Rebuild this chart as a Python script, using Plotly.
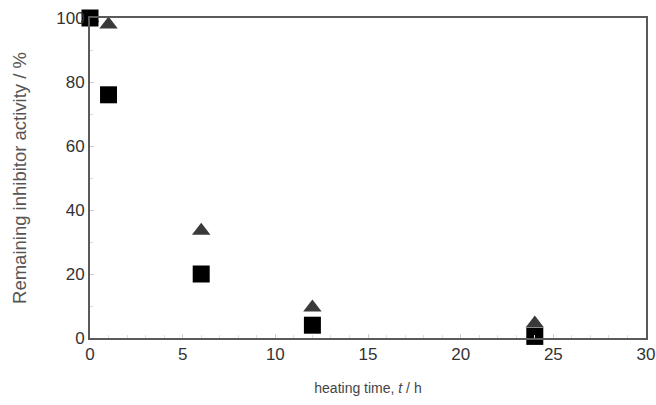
import plotly.graph_objects as go

# Heating time (h) and remaining inhibitor activity (%)
time_square = [0, 1, 6, 12, 24]
activity_square = [100, 76, 20, 4, 0.5]

time_triangle = [0, 1, 6, 12, 24]
activity_triangle = [100, 98, 33.5, 9.5, 4.5]

x_ticks = [0, 5, 10, 15, 20, 25, 30]
y_ticks = [0, 20, 40, 60, 80, 100]

fig = go.Figure()
fig.add_trace(go.Scatter(
    x=time_triangle, y=activity_triangle, mode="markers",
    marker=dict(symbol="triangle-up", size=16, color="#3a3a3a"),
    cliponaxis=False, showlegend=False))
fig.add_trace(go.Scatter(
    x=time_square, y=activity_square, mode="markers",
    marker=dict(symbol="square", size=17, color="#000000"),
    cliponaxis=False, showlegend=False))

axis_common = dict(
    showline=True, linecolor="#5a5a5a", linewidth=2, mirror=True,
    showgrid=False, zeroline=False, automargin=False,
    ticks="inside", ticklen=4, tickcolor="#cfcfcf",
    tickfont=dict(family="Liberation Sans, Arial", size=17, color="#333333"),
)

fig.update_xaxes(
    range=[0, 30], tickvals=x_ticks, **axis_common,
    minor=dict(dtick=1, ticks="inside", ticklen=3, tickcolor="#dddddd"),
    title=dict(text="heating time, <i>t</i> / h", standoff=20,
               font=dict(family="Liberation Sans, Arial", size=14, color="#444444")),
)
fig.update_yaxes(
    range=[0, 100], tickvals=y_ticks, **axis_common,
    minor=dict(dtick=10, ticks="inside", ticklen=3, tickcolor="#dddddd"),
    title=dict(text="Remaining inhibitor activity / %", standoff=25,
               font=dict(family="Liberation Sans, Arial", size=18.5, color="#555555")),
)

fig.update_layout(
    width=656, height=405,
    margin=dict(l=90, r=10, t=18, b=67),
    paper_bgcolor="white", plot_bgcolor="white",
)

fig.write_html("out.html")
